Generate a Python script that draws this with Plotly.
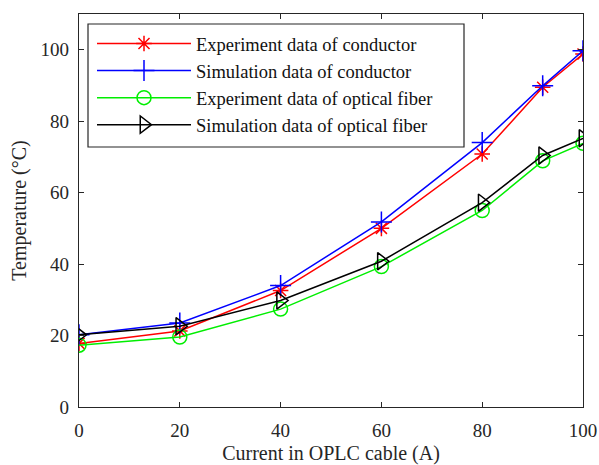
import plotly.graph_objects as go

current = [0, 20, 40, 60, 80, 92, 100]
exp_conductor = [17.8, 21.3, 32.6, 50.0, 70.8, 89.5, 98.8]
sim_conductor = [20.2, 23.5, 34.0, 51.8, 74.0, 89.9, 99.7]
exp_fiber = [17.3, 19.6, 27.4, 39.3, 55.0, 68.9, 73.8]
sim_fiber = [20.2, 22.6, 29.8, 40.8, 57.2, 70.4, 75.2]

x_ticks = [0, 20, 40, 60, 80, 100]
y_ticks = [0, 20, 40, 60, 80, 100]

series = [
    ("Experiment data of conductor", exp_conductor, "#ff0000", "asterisk-open", 13),
    ("Simulation data of conductor", sim_conductor, "#0000ff", "cross-thin-open", 15),
    ("Experiment data of optical fiber", exp_fiber, "#00ee00", "circle-open", 14),
    ("Simulation data of optical fiber", sim_fiber, "#000000", "triangle-right-open", 15),
]

fig = go.Figure()
for i, (name, vals, color, sym, size) in enumerate(series):
    fig.add_trace(go.Scatter(
        x=current, y=vals, name=name, mode="lines+markers", legendgroup=f"g{i}",
        line=dict(color=color, width=1.5),
        marker=dict(symbol=sym, size=size, color=color, line=dict(color=color, width=1.5)),
    ))

font = "Liberation Serif, Times New Roman, serif"
axis_common = dict(
    showline=True, linecolor="#262626", linewidth=1.2, mirror="ticks",
    ticks="inside", ticklen=5, tickcolor="#262626", showgrid=False, zeroline=False,
    tickfont=dict(family=font, size=19, color="#262626"), automargin=False,
)
fig.update_xaxes(range=[0, 100], tickvals=x_ticks, ticklabelstandoff=6, **axis_common,
                 title=dict(text="Current in OPLC cable (A)", font=dict(family=font, size=20, color="#262626"), standoff=13))
fig.update_yaxes(range=[0, 110], tickvals=y_ticks, ticklabelstandoff=5, **axis_common,
                 title=dict(text="Temperature (°C)", font=dict(family=font, size=20, color="#262626"), standoff=8))

# legend frame (pixel geometry of the reference converted to paper coords)
L, R, T, B = 79, 583, 14, 407
def px(x):
    return (x - L) / (R - L)
def py(y):
    return (B - y) / (B - T)

fig.add_shape(type="rect", xref="paper", yref="paper",
              x0=px(88), x1=px(464), y0=py(147), y1=py(24),
              line=dict(color="#262626", width=1.2), fillcolor="white", layer="above")

fig.update_layout(
    width=599, height=465,
    margin=dict(l=L, r=599 - R, t=T, b=465 - B),
    plot_bgcolor="white", paper_bgcolor="white",
    legend=dict(
        x=px(92), y=py(25), xanchor="left", yanchor="top",
        bgcolor="rgba(0,0,0,0)", borderwidth=0,
        font=dict(family=font, size=18.5, color="#111111"),
        itemwidth=94, tracegroupgap=0,
    ),
)

fig.write_html("out.html")
